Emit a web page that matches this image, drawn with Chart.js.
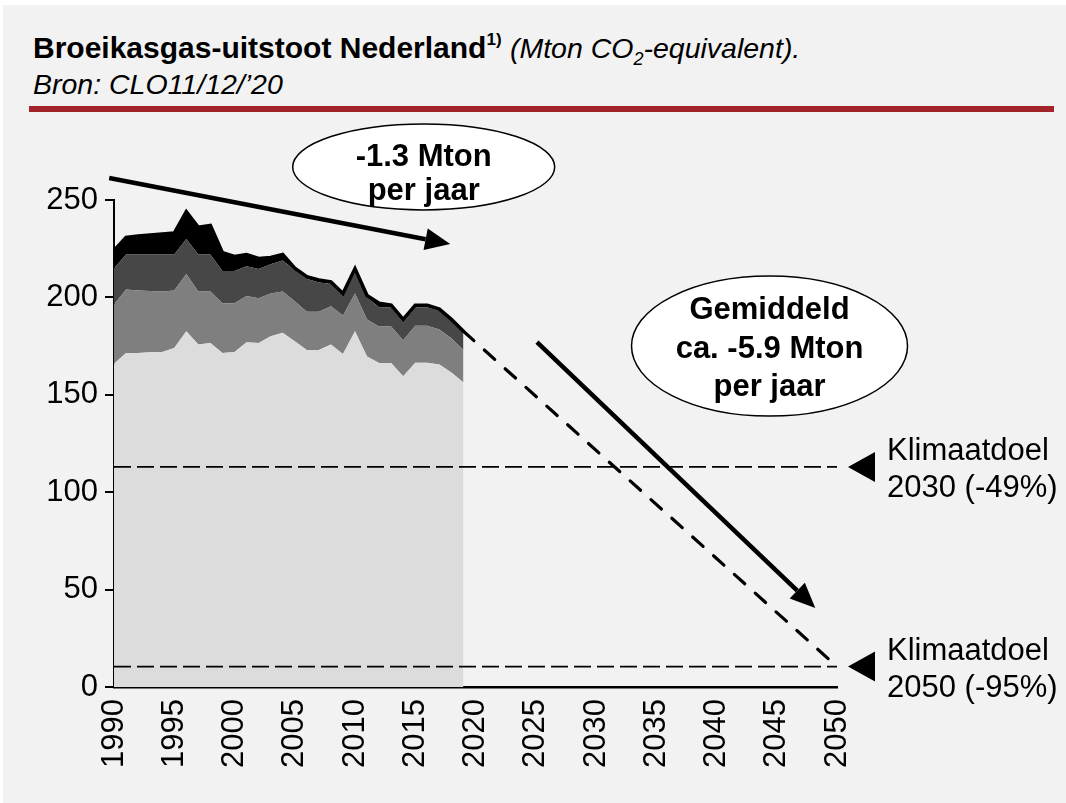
<!DOCTYPE html>
<html lang="nl">
<head>
<meta charset="utf-8">
<title>Broeikasgas-uitstoot Nederland</title>
<script src="https://cdn.jsdelivr.net/npm/chart.js@4/dist/chart.umd.min.js"></script>
<style>
    html, body { margin: 0; padding: 0; background: #fff; }
    body { width: 1066px; height: 803px; position: relative; overflow: hidden; font-family: "Liberation Sans", Arial, sans-serif; }
    #paneel { position: absolute; left: 3px; top: 5px; right: 0; bottom: 0; background: #f2f2f2; }
    #titel { position: absolute; left: 33px; top: 30px; font-size: 30px; line-height: 36px; color: #000; white-space: nowrap; }
    #titel i { font-size: 28.5px; }
    #titel sup { font-size: 17px; line-height: 0; position: relative; top: -2px; }
    #titel sub { font-size: 18px; line-height: 0; }
    #lijn { position: absolute; left: 29px; top: 106px; width: 1025px; height: 6px; background: #a3232a; }
    canvas { position: absolute; left: 0; top: 0; }
</style>
</head>
<body>
<div id="paneel"></div>
<div id="titel"><b>Broeikasgas-uitstoot Nederland<sup>1)</sup></b> <i>(Mton CO<sub>2</sub>-equivalent).</i><br><i>Bron: CLO11/12/’20</i></div>
<div id="lijn"></div>
<canvas id="grafiek" width="1066" height="803"></canvas>

<script>
// --- DATA (Mton CO2-eq) ---
const jaren = [1990, 1991, 1992, 1993, 1994, 1995, 1996, 1997, 1998, 1999,
               2000, 2001, 2002, 2003, 2004, 2005, 2006, 2007, 2008, 2009,
               2010, 2011, 2012, 2013, 2014, 2015, 2016, 2017, 2018, 2019];

const laagLicht = [166, 171.5, 171.5, 171.8, 172, 174, 182.6, 175.8, 176.6, 171.5,
                   172, 177, 176.6, 180, 181.8, 177.5, 173, 173, 175.8, 171,
                   182.6, 169.7, 166.3, 166.3, 159.5, 166.5, 166.5, 165.5, 161.5, 156.3];
const laagMidden = [30.4, 32.5, 32, 31.5, 31, 29.5, 29.4, 27.2, 26.4, 25.5,
                    25, 23.7, 22.9, 22, 21.2, 20.5, 19.6, 19.6, 19.7, 19.7,
                    19.4, 19, 18.7, 18.7, 18.5, 18.9, 18.9, 18, 17.5, 16.7];
const laagDonker = [18.6, 18, 18.5, 18.7, 19, 18.5, 18, 19, 19, 16.6,
                    16.6, 15.3, 15.1, 15, 16, 16, 17, 15.1, 11.5, 10,
                    10.7, 11.3, 10, 10, 9, 9.6, 9.6, 9.5, 8.8, 8.4];
const laagZwart = [9, 8.8, 9.5, 10, 10.5, 11, 14, 14, 15, 9.4,
                   7.4, 6, 5.4, 3.5, 3, 1, 1, 1.3, 1, 1.3,
                   2.1, 1, 2, 1, 1.7, 1, 1, 1, 0.9, 1.2];

// projectie richting 2050
const projectieJaren = [2019, 2050];
const projectieWaarden = [182.6, 10.5];

// klimaatdoelen
const doelJaren = [1990, 2050];
const doel2030 = 113;
const doel2050 = 10.5;

// assen
const xTicks = [1990, 1995, 2000, 2005, 2010, 2015, 2020, 2025, 2030, 2035, 2040, 2045, 2050];
const yTicks = [0, 50, 100, 150, 200, 250];

const punten = (xs, ys) => xs.map((x, i) => ({ x: x, y: ys[i] }));
const totaal = jaren.map((j, i) => laagLicht[i] + laagMidden[i] + laagDonker[i] + laagZwart[i]);

// --- ANNOTATIES (posities in jaar / Mton) ---
const ellipsen = [
    { jaar: 2015.7, waarde: 267, rx: 131, ry: 43, regels: ['-1.3 Mton', 'per jaar'], dy: [-1, 33] },
    { jaar: 2044.4, waarde: 175, rx: 138, ry: 70, regels: ['Gemiddeld', 'ca. -5.9 Mton', 'per jaar'], dy: [-27, 12, 50] }
];
const pijlen = [
    { van: [1989.6, 261.3], naar: [2017.9, 227.4] },
    { van: [2025.1, 177.1], naar: [2048.2, 40.6] }
];
const doelLabels = [
    { waarde: doel2030, tekst: ['Klimaatdoel', '2030 (-49%)'] },
    { waarde: doel2050, tekst: ['Klimaatdoel', '2050 (-95%)'] }
];

Chart.defaults.font.family = '"Liberation Sans", Arial, sans-serif';
Chart.defaults.color = '#000';

function tekenPijl(ctx, x1, y1, x2, y2) {
    const hoek = Math.atan2(y2 - y1, x2 - x1);
    const lengte = 25, breedte = 11;
    const bx = x2 - lengte * Math.cos(hoek);
    const by = y2 - lengte * Math.sin(hoek);
    ctx.beginPath();
    ctx.moveTo(x1, y1);
    ctx.lineTo(bx, by);
    ctx.lineWidth = 4.5;
    ctx.strokeStyle = '#000';
    ctx.stroke();
    ctx.beginPath();
    ctx.moveTo(x2, y2);
    ctx.lineTo(bx + breedte * Math.sin(hoek), by - breedte * Math.cos(hoek));
    ctx.lineTo(bx - breedte * Math.sin(hoek), by + breedte * Math.cos(hoek));
    ctx.closePath();
    ctx.fillStyle = '#000';
    ctx.fill();
}

const annotaties = {
    id: 'annotaties',
    afterDraw(chart) {
        const { ctx, scales: { x, y } } = chart;
        ctx.save();

        pijlen.forEach(p => {
            tekenPijl(ctx, x.getPixelForValue(p.van[0]), y.getPixelForValue(p.van[1]),
                x.getPixelForValue(p.naar[0]), y.getPixelForValue(p.naar[1]));
        });

        ellipsen.forEach(e => {
            const cx = x.getPixelForValue(e.jaar);
            const cy = y.getPixelForValue(e.waarde);
            ctx.beginPath();
            ctx.ellipse(cx, cy, e.rx, e.ry, 0, 0, Math.PI * 2);
            ctx.fillStyle = '#fff';
            ctx.fill();
            ctx.lineWidth = 1.5;
            ctx.strokeStyle = '#000';
            ctx.stroke();
            ctx.fillStyle = '#000';
            ctx.font = 'bold 31px "Liberation Sans", Arial, sans-serif';
            ctx.textAlign = 'center';
            ctx.textBaseline = 'alphabetic';
            e.regels.forEach((r, i) => ctx.fillText(r, cx, cy + e.dy[i]));
        });

        // driehoekjes + labels klimaatdoelen
        const xr = x.right;
        doelLabels.forEach(d => {
            const ty = y.getPixelForValue(d.waarde);
            ctx.beginPath();
            ctx.moveTo(xr + 11, ty);
            ctx.lineTo(xr + 38, ty - 15);
            ctx.lineTo(xr + 38, ty + 15);
            ctx.closePath();
            ctx.fillStyle = '#000';
            ctx.fill();
            ctx.font = '31px "Liberation Sans", Arial, sans-serif';
            ctx.textAlign = 'left';
            ctx.fillText(d.tekst[0], xr + 50, ty - 7);
            ctx.fillText(d.tekst[1], xr + 50, ty + 30);
        });

        ctx.restore();
    }
};

const ctx = document.getElementById('grafiek').getContext('2d');
new Chart(ctx, {
    type: 'line',
    data: {
        datasets: [{
            label: 'laag 1',
            data: punten(jaren, laagLicht),
            stack: 'uitstoot',
            order: 1,
            backgroundColor: '#dcdcdc',
            borderColor: 'rgba(0,0,0,0)',
            fill: 'origin'
        }, {
            label: 'laag 2',
            data: punten(jaren, laagMidden),
            stack: 'uitstoot',
            order: 1,
            backgroundColor: '#7f7f7f',
            borderColor: 'rgba(0,0,0,0)',
            fill: '-1'
        }, {
            label: 'laag 3',
            data: punten(jaren, laagDonker),
            stack: 'uitstoot',
            order: 1,
            backgroundColor: '#474747',
            borderColor: 'rgba(0,0,0,0)',
            fill: '-1'
        }, {
            label: 'laag 4',
            data: punten(jaren, laagZwart),
            stack: 'uitstoot',
            order: 1,
            backgroundColor: '#000',
            borderColor: 'rgba(0,0,0,0)',
            fill: '-1'
        }, {
            label: 'Totaal',
            data: punten(jaren, totaal),
            stack: 'totaal',
            order: 0,
            borderColor: '#000',
            borderWidth: 3.5,
            fill: false
        }, {
            label: 'Projectie',
            data: punten(projectieJaren, projectieWaarden),
            stack: 'projectie',
            order: 0,
            borderColor: '#000',
            borderWidth: 3.2,
            borderDash: [14, 14],
            borderCapStyle: 'round',
            fill: false
        }, {
            label: 'Doel 2030',
            data: punten(doelJaren, [doel2030, doel2030]),
            stack: 'doel2030',
            order: 0,
            borderColor: '#000',
            borderWidth: 1.8,
            borderDash: [17, 6],
            fill: false
        }, {
            label: 'Doel 2050',
            data: punten(doelJaren, [doel2050, doel2050]),
            stack: 'doel2050',
            order: 0,
            borderColor: '#000',
            borderWidth: 1.8,
            borderDash: [17, 6],
            fill: false
        }]
    },
    options: {
        responsive: false,
        animation: false,
        layout: { padding: { left: 0, right: 229, top: 200, bottom: 0 } },
        elements: { point: { radius: 0 }, line: { tension: 0 } },
        plugins: {
            legend: { display: false },
            tooltip: { enabled: false }
        },
        scales: {
            x: {
                type: 'linear',
                min: 1990,
                max: 2050,
                afterFit: s => { s.height = 116; },
                afterBuildTicks: s => { s.ticks = xTicks.map(v => ({ value: v })); },
                ticks: {
                    autoSkip: false,
                    maxRotation: 90,
                    minRotation: 90,
                    padding: 12,
                    color: '#000',
                    font: { size: 31 },
                    callback: v => String(v)
                },
                grid: { drawOnChartArea: false, drawTicks: false },
                border: { color: '#000', width: 2.5 }
            },
            y: {
                stacked: true,
                min: 0,
                max: 250,
                afterFit: s => { s.width = 114; },
                afterBuildTicks: s => { s.ticks = yTicks.map(v => ({ value: v })); },
                ticks: { padding: 7, color: '#000', font: { size: 31 } },
                grid: { drawOnChartArea: false, drawTicks: true, tickLength: 9, color: '#000', lineWidth: 2 },
                border: { color: '#000', width: 2 }
            }
        }
    },
    plugins: [annotaties]
});
</script>
</body>
</html>
